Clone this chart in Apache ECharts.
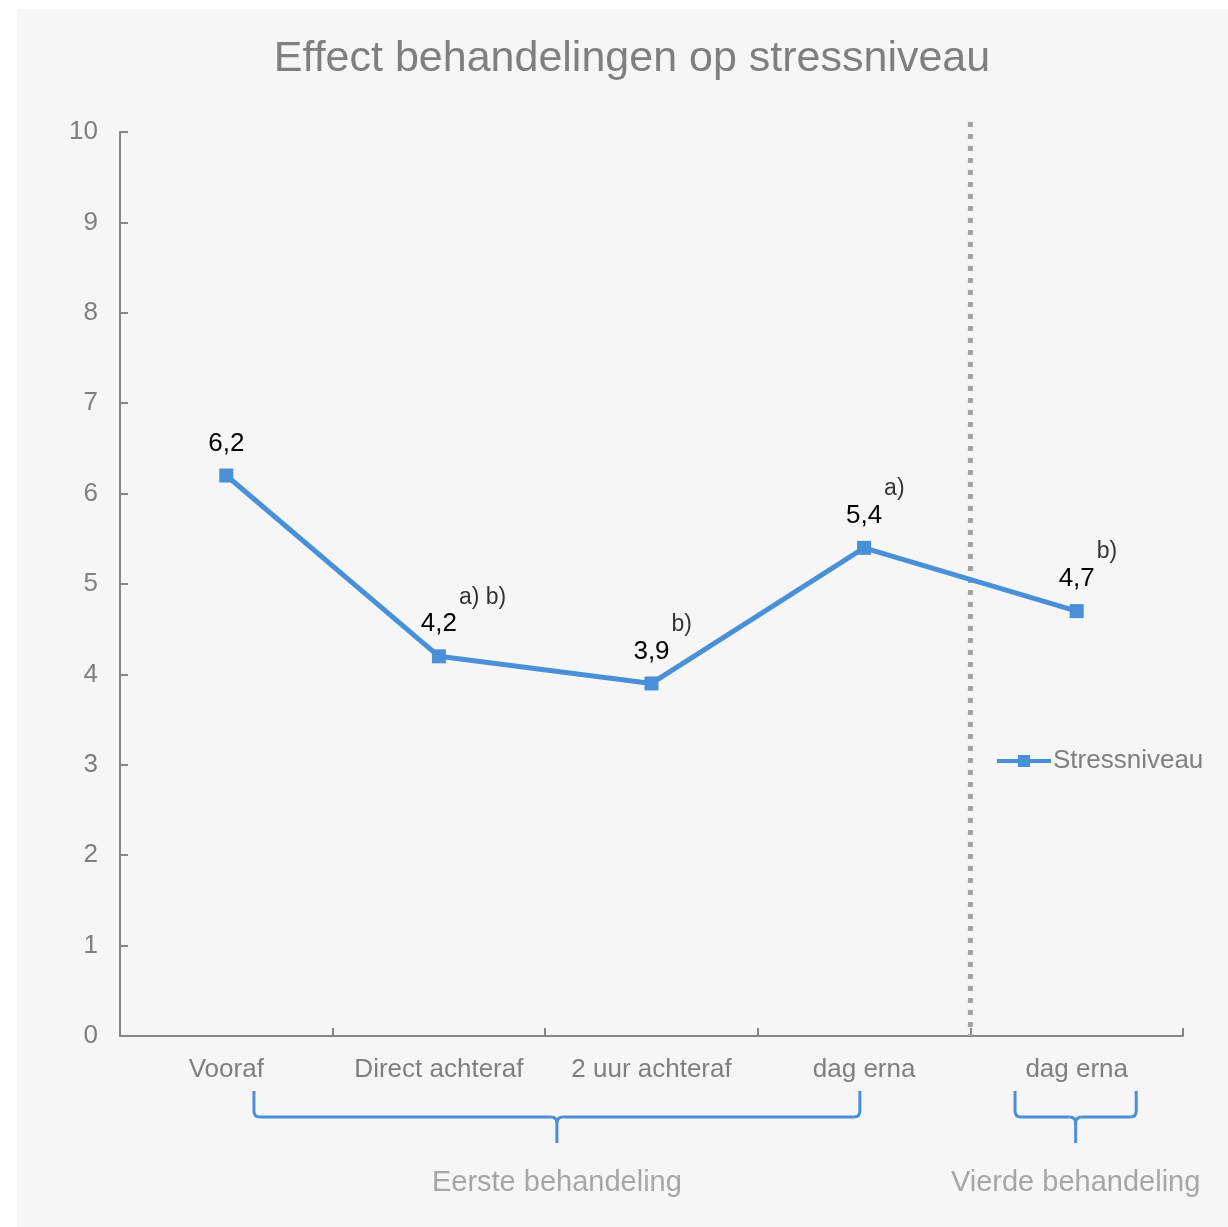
<!DOCTYPE html>
<html>
<head>
<meta charset="utf-8">
<script src="https://cdn.jsdelivr.net/npm/echarts@6/dist/echarts.min.js"></script>
<style>
  html, body { margin: 0; padding: 0; background: #ffffff; }
  #chart { width: 1228px; height: 1227px; }
</style>
</head>
<body>
<div id="chart"></div>
<script>
// Stress level per measurement moment
const categories = ['Vooraf', 'Direct achteraf', '2 uur achteraf', 'dag erna', 'dag erna'];
const stressValues = [6.2, 4.2, 3.9, 5.4, 4.7];
const significance = ['', 'a) b)', 'b)', 'a)', 'b)'];
const yTicks = { min: 0, max: 10, interval: 1 };
// Treatment groups: first and last category index of each bracket
const groups = [
  { name: 'Eerste behandeling', from: 0, to: 3 },
  { name: 'Vierde behandeling', from: 4, to: 4 }
];
// Category boundary where the dotted separator goes
const separatorAfter = 3;

const FONT = '"Liberation Sans", Arial, sans-serif';
const BLUE = '#4a90d9';
const AXIS = '#868686';
const LABEL = '#7f7f7f';

const chart = echarts.init(document.getElementById('chart'), null, { renderer: 'canvas' });

const fmt = v => String(v).replace('.', ',');

chart.setOption({
  backgroundColor: 'transparent',
  animation: false,
  textStyle: { fontFamily: FONT },
  title: {
    text: 'Effect behandelingen op stressniveau',
    left: 632,
    textAlign: 'center',
    top: 38,
    padding: 0,
    textStyle: { fontFamily: FONT, fontSize: 43, fontWeight: 'normal', color: '#7f7f7f' }
  },
  legend: {
    data: ['Stressniveau'],
    left: 995,
    top: 748,
    padding: 0,
    itemWidth: 54,
    itemHeight: 15,
    lineStyle: { width: 4 },
    textStyle: { fontFamily: FONT, fontSize: 26, color: LABEL, padding: [0, 0, 0, -3] },
    selectedMode: false
  },
  grid: { left: 120, right: 45, top: 132, bottom: 191, containLabel: false },
  xAxis: {
    type: 'category',
    data: categories,
    boundaryGap: true,
    axisLine: { lineStyle: { color: AXIS, width: 2 } },
    axisTick: { show: true, inside: true, length: 8, lineStyle: { color: AXIS, width: 2 } },
    axisLabel: { color: LABEL, fontSize: 26, fontFamily: FONT, margin: 21, interval: 0 },
    splitLine: { show: false }
  },
  yAxis: {
    type: 'value',
    min: yTicks.min,
    max: yTicks.max,
    interval: yTicks.interval,
    axisLine: { show: true, lineStyle: { color: AXIS, width: 2 } },
    axisTick: { show: true, inside: true, length: 8, lineStyle: { color: AXIS, width: 2 } },
    axisLabel: { color: LABEL, fontSize: 26, fontFamily: FONT, margin: 22 },
    splitLine: { show: false }
  },
  series: [
    {
      name: 'Stressniveau',
      type: 'line',
      data: stressValues,
      symbol: 'rect',
      symbolSize: 14,
      itemStyle: { color: BLUE },
      lineStyle: { color: BLUE, width: 5 },
      label: {
        show: true,
        position: 'top',
        distance: 12,
        fontSize: 26,
        fontFamily: FONT,
        color: '#000000',
        formatter: p => fmt(p.value)
      },
      z: 3
    },
    {
      name: 'significantie',
      type: 'scatter',
      data: stressValues,
      symbolSize: 1,
      silent: true,
      itemStyle: { color: 'rgba(0,0,0,0)' },
      label: {
        show: true,
        position: 'inside',
        offset: [20, -59],
        align: 'left',
        verticalAlign: 'middle',
        fontSize: 23,
        fontFamily: FONT,
        color: '#000000',
        formatter: p => significance[p.dataIndex]
      },
      z: 4
    }
  ]
});

// Decorations placed through the axis scales
function px(idx, val) { return chart.convertToPixel({ gridIndex: 0 }, [idx, val]); }

const bottomLeft = px(0, yTicks.min);
const topPt = px(0, yTicks.max);
const catWidth = px(1, 0)[0] - px(0, 0)[0];
const sepX = (px(separatorAfter, 0)[0] + px(separatorAfter + 1, 0)[0]) / 2;
const axisY = bottomLeft[1];

const graphics = [
  {
    type: 'rect',
    shape: { x: 17, y: 9, width: 1228 - 17, height: 1227 - 9 },
    style: { fill: '#f6f6f6' },
    z: -10,
    silent: true
  },
  {
    type: 'line',
    shape: { x1: sepX, y1: topPt[1] - 10, x2: sepX, y2: axisY },
    style: { stroke: '#a2a2a2', lineWidth: 5, lineDash: [5, 7] },
    z: 1,
    silent: true
  }
];

const braceTop = axisY + 55;
const braceMid = axisY + 81;
const braceBot = axisY + 107;
const braceStyle = { stroke: BLUE, lineWidth: 3, fill: null, lineCap: 'butt' };
groups.forEach(g => {
  const x1 = px(g.from, 0)[0] + (g.from === g.to ? -catWidth * 0.29 : catWidth * 0.13);
  const x2 = px(g.to, 0)[0] + (g.from === g.to ? catWidth * 0.28 : -catWidth * 0.02);
  const xc = (x1 + x2) / 2;
  const r = 6;
  // outer ends
  graphics.push({ type: 'polyline', shape: { points: [[x1, braceTop], [x1, braceMid - r]] }, style: braceStyle, silent: true });
  graphics.push({ type: 'polyline', shape: { points: [[x2, braceTop], [x2, braceMid - r]] }, style: braceStyle, silent: true });
  // rounded corners
  graphics.push({ type: 'bezierCurve', shape: { x1: x1, y1: braceMid - r, cpx1: x1, cpy1: braceMid, x2: x1 + r, y2: braceMid }, style: braceStyle, silent: true });
  graphics.push({ type: 'bezierCurve', shape: { x1: x2, y1: braceMid - r, cpx1: x2, cpy1: braceMid, x2: x2 - r, y2: braceMid }, style: braceStyle, silent: true });
  // horizontal arms
  graphics.push({ type: 'polyline', shape: { points: [[x1 + r, braceMid], [xc - r, braceMid]] }, style: braceStyle, silent: true });
  graphics.push({ type: 'polyline', shape: { points: [[xc + r, braceMid], [x2 - r, braceMid]] }, style: braceStyle, silent: true });
  // central point
  graphics.push({ type: 'bezierCurve', shape: { x1: xc - r, y1: braceMid, cpx1: xc, cpy1: braceMid, x2: xc, y2: braceMid + r }, style: braceStyle, silent: true });
  graphics.push({ type: 'bezierCurve', shape: { x1: xc + r, y1: braceMid, cpx1: xc, cpy1: braceMid, x2: xc, y2: braceMid + r }, style: braceStyle, silent: true });
  graphics.push({ type: 'polyline', shape: { points: [[xc, braceMid + r], [xc, braceBot]] }, style: braceStyle, silent: true });
  graphics.push({
    type: 'text',
    x: xc,
    y: axisY + 147,
    style: {
      text: g.name,
      fill: '#a6a6a6',
      fontSize: 29,
      fontFamily: FONT,
      align: 'center',
      verticalAlign: 'middle'
    },
    silent: true
  });
});

chart.setOption({ graphic: graphics });
</script>
</body>
</html>
